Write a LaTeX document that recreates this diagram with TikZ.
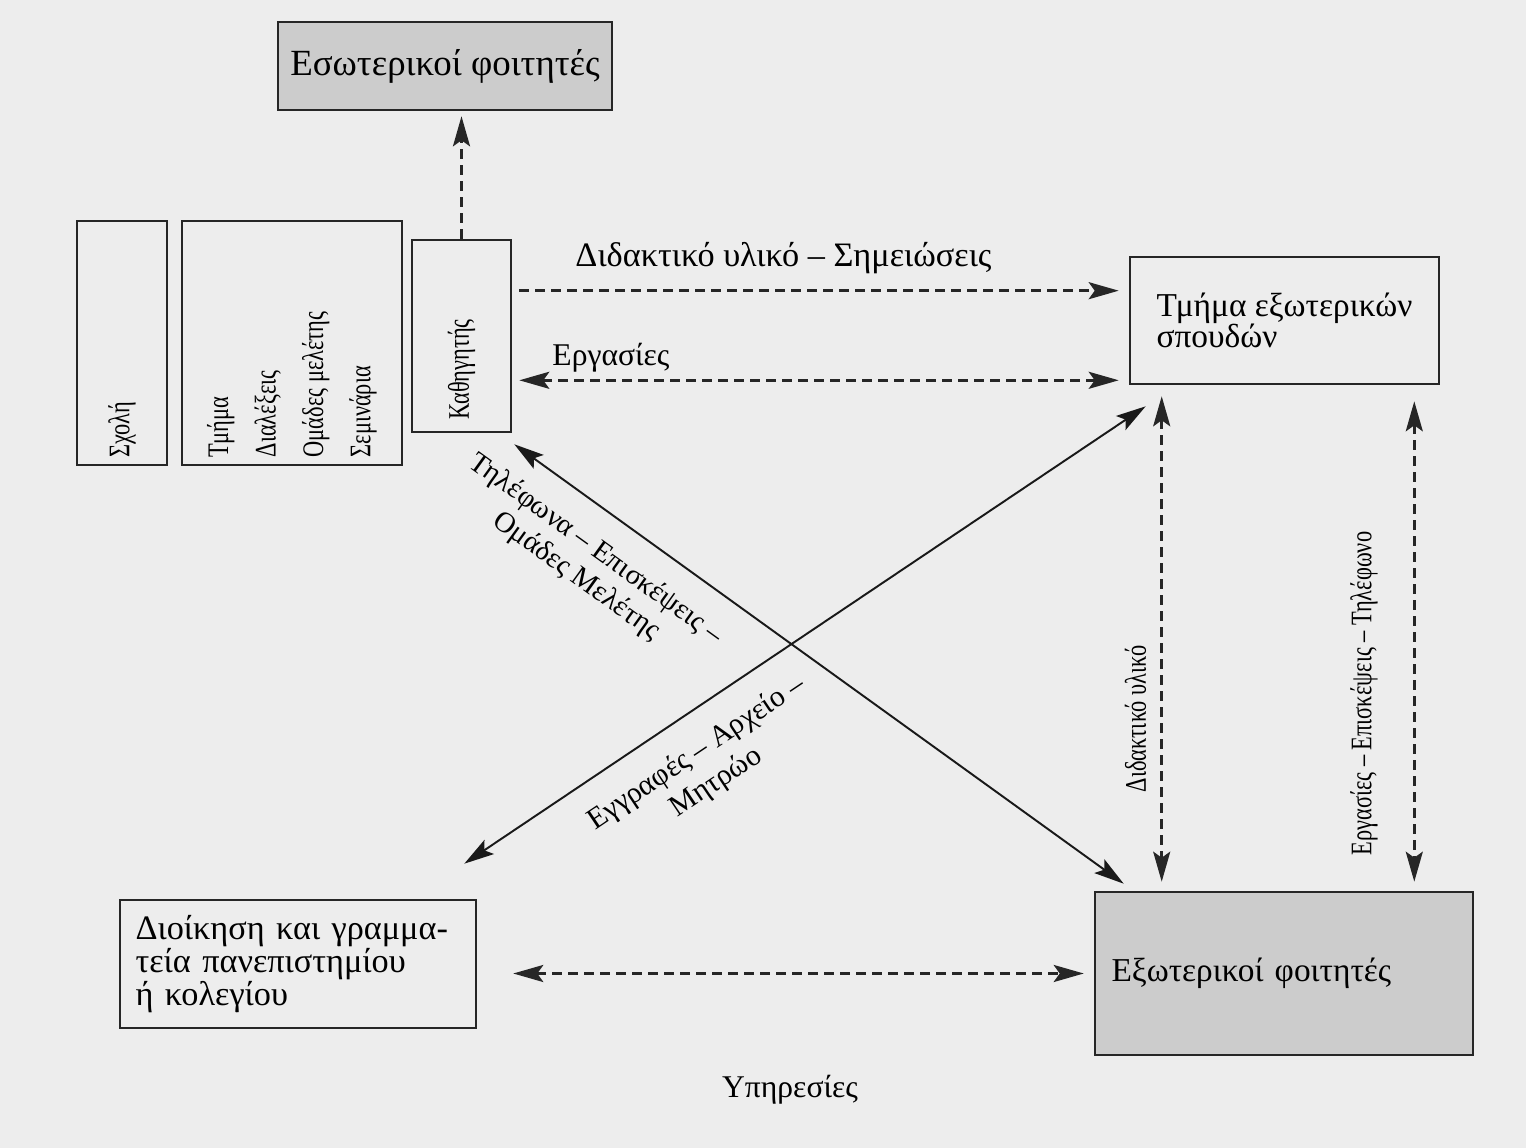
\documentclass[tikz,border=0pt]{standalone}
\usepackage{fontspec}
\setmainfont{Liberation Serif}
\usepackage{graphicx}
\usetikzlibrary{arrows.meta,calc}
\newcommand{\narrowtext}[1]{\scalebox{0.75}[1]{#1}}

\begin{document}
\begin{tikzpicture}[x=0.02cm, y=-0.02cm, font=\fontsize{18}{21}\selectfont,
  >={Stealth[length=0.6cm, width=0.34cm, inset=0.12cm]}]
\tikzstyle{box}=[rectangle, draw=black!85, line width=1.5pt, inner sep=0pt]
\tikzstyle{grainy}=[fill=black!20]
\tikzstyle{dashlink}=[draw=black!85, line width=1.6pt, dash pattern=on 0.2cm off 0.12cm]
\tikzstyle{solidlink}=[draw=black!90, line width=1.1pt, <->]
\tikzstyle{sidetext}=[font=\fontsize{17}{27}\selectfont]

% Page
\fill [black!7] (0, 0) rectangle (1526, 1148);
\useasboundingbox (0, 0) rectangle (1526, 1148);

% University side
\node at (122, 343) [box, minimum width=1.8cm, minimum height=4.88cm, sidetext] (school)
  {\rotatebox{90}{\makebox[4.6cm][l]{\narrowtext{Σχολή}}}};
\node at (292, 343) [box, minimum width=4.4cm, minimum height=4.88cm, sidetext] (dept)
  {\rotatebox{90}{\narrowtext{\parbox{6.1cm}{\raggedright Τμήμα\\Διαλέξεις\\Ομάδες μελέτης\\Σεμινάρια}}}};
\node at (461.5, 336) [box, minimum width=1.98cm, minimum height=3.84cm, sidetext] (prof)
  {\rotatebox{90}{\makebox[3.36cm][l]{\narrowtext{Καθηγητής}}}};
\node at (445, 66) [box, grainy, minimum width=6.68cm, minimum height=1.76cm,
  font=\fontsize{21}{24}\selectfont] (intstud) {Εσωτερικοί φοιτητές};
\node at (298, 964) [box, minimum width=7.12cm, minimum height=2.56cm, align=left,
  text width=6.5cm, font=\fontsize{19.5}{17.8}\selectfont] (admin)
  {Διοίκηση και γραμμα-\\τεία πανεπιστημίου\\ή κολεγίου};

% Distance side
\node at (1284.5, 320.5) [box, minimum width=6.18cm, minimum height=2.54cm, align=left,
  font=\fontsize{19}{18}\selectfont] (extdept) {Τμήμα εξωτερικών\\σπουδών};
\node at (1284, 973.5) [box, grainy, minimum width=7.56cm, minimum height=3.26cm, align=left,
  text width=6.9cm, font=\fontsize{19}{22}\selectfont] (extstud) {Εξωτερικοί φοιτητές};

% Dashed links
\draw [dashlink, ->, shorten >=0.1cm] (prof.north) -- (prof.north |- intstud.south);
\draw [dashlink, ->, shorten <=0.14cm, shorten >=0.2cm]
  ($(prof.east |- extdept.north)+(0, 35)$) --
  node [pos=0.44, above=0.2cm, font=\fontsize{19.5}{22}\selectfont] {Διδακτικό υλικό – Σημειώσεις}
  ($(extdept.north west)+(0, 35)$);
\draw [dashlink, <->, shorten <=0.14cm, shorten >=0.2cm]
  ($(prof.east |- extdept.south)+(0, -5)$) -- node [pos=0.16, above=0.02cm] {Εργασίες}
  ($(extdept.south west)+(0, -5)$);
\draw [dashlink, <->, shorten <=0.22cm, shorten >=0.18cm]
  ($(extdept.south west)+(33, 0)$) --
  node [pos=0.66, rotate=90, anchor=south, inner sep=8pt, sidetext] {\narrowtext{Διδακτικό υλικό}}
  ($(extdept.south west |- extstud.north)+(33, 0)$);
\draw [dashlink, <->, shorten <=0.32cm, shorten >=0.18cm]
  ($(extdept.south east)+(-26, 0)$) --
  node [pos=0.61, rotate=90, anchor=south, inner sep=20pt, sidetext] {\narrowtext{Εργασίες – Επισκέψεις – Τηλέφωνο}}
  ($(extdept.south east |- extstud.north)+(-26, 0)$);
\draw [dashlink, <->, shorten <=0.72cm, shorten >=0.2cm] (admin.east |- extstud.west) -- (extstud.west);

% Crossing links
\draw [solidlink] ($(admin.north east)+(-13, -35)$) --
  node [pos=0.31, sloped, below=10pt, align=center, font=\fontsize{17}{20}\selectfont] {Εγγραφές – Αρχείο –\\Μητρώο}
  ($(extdept.south west)+(17, 21)$);
\draw [solidlink] ($(prof.south east)+(2, 11)$) --
  node [pos=0.17, sloped, below=10pt, align=center, font=\fontsize{16.5}{19}\selectfont] {Τηλέφωνα – Επισκέψεις –\\Ομάδες Μελέτης}
  ($(extstud.north west)+(30, -7)$);

% Text
\node at (790, 1090) (services) {Υπηρεσίες};
\end{tikzpicture}
\end{document}
